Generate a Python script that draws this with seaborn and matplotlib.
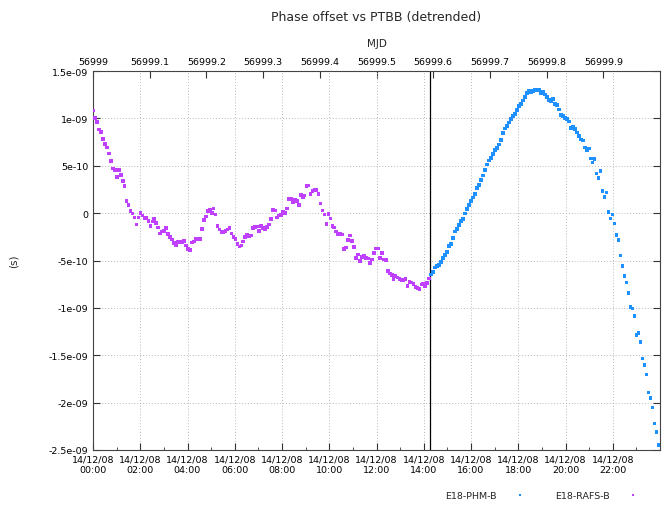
import matplotlib
matplotlib.use('Agg')
import matplotlib.pyplot as plt
import matplotlib.dates as mdates
from matplotlib.ticker import FixedLocator
from matplotlib.lines import Line2D
import seaborn as sns
import numpy as np
import pandas as pd

# detrended phase offset, units of 1e-10 s, one sample every ~5 min
rafs_vals = [
    10.83, 10.02, 9.63, 8.83, 8.58, 7.84, 7.28, 6.93, 6.29, 5.52,
    4.71, 4.57, 3.80, 4.54, 4.01, 3.38, 2.85, 1.30, 0.88, 0.25,
    -0.04, -0.46, -1.20, -0.46, 0.04, -0.25, -0.49, -0.53, -0.81, -1.34,
    -0.88, -0.60, -1.02, -1.51, -2.14, -1.93, -1.90, -1.58, -2.22, -2.50,
    -2.78, -3.16, -3.41, -3.06, -3.02, -3.09, -2.95, -3.41, -3.76, -3.87,
    -3.09, -2.99, -2.71, -2.67, -2.74, -1.65, -0.74, -0.35, 0.21, 0.39,
    0.04, 0.49, -0.14, -1.37, -1.72, -2.00, -1.97, -1.90, -1.72, -1.55,
    -2.14, -2.53, -2.71, -3.23, -3.52, -3.41, -2.99, -2.50, -2.29, -2.43,
    -2.36, -1.55, -1.44, -1.41, -1.90, -1.34, -1.55, -1.69, -1.44, -1.20,
    -0.63, 0.35, 0.28, -0.46, -0.25, -0.21, 0.14, 0.04, 0.49, 1.48,
    1.55, 1.20, 1.44, 1.27, 0.88, 1.90, 1.65, 1.86, 2.85, 2.92,
    2.04, 2.36, 2.43, 2.46, 2.04, 1.02, 0.28,
    -0.14, -1.13, -0.07, -0.56, -1.37, -1.51, -1.93, -2.22, -2.22, -2.25,
    -3.76, -3.62, -2.81, -2.36, -2.92, -3.59, -4.71, -4.36, -5.06, -4.61,
    -4.54, -4.75, -4.78, -5.24, -4.89, -4.18, -3.73, -3.73, -4.71, -4.22,
    -4.89, -4.96, -6.08, -6.36, -6.54, -6.96, -6.61, -6.79, -6.93, -7.07,
    -7.07, -6.96, -7.67, -7.28, -7.31, -7.45, -7.77, -7.91, -8.02, -7.53,
    -7.45, -7.67, -7.38, -6.90,
]
phm_vals = [
    -6.47, -6.19, -5.73, -5.56, -5.49, -5.17, -4.75, -4.43, -4.08, -3.48,
    -3.23, -2.60, -1.93, -1.65, -1.23, -0.81, -0.60, -0.04, 0.42, 0.88,
    1.27, 1.65, 2.04, 2.64, 2.95, 3.52, 3.97, 4.54, 5.13, 5.56,
    5.84, 6.26, 6.65, 6.90, 7.25, 7.74, 8.45, 8.94, 9.22,
    9.56, 9.95, 10.27, 10.44, 10.90, 11.29, 11.53, 11.88, 12.27, 12.66,
    12.94, 12.73, 12.90, 12.97, 12.97, 12.97, 12.69, 12.80, 12.52, 12.24,
    11.92, 11.81, 12.06, 11.50, 11.39, 10.94, 10.34, 10.27, 10.02, 9.92,
    9.67, 9.00, 9.11, 8.90, 8.51, 8.16, 7.77, 7.67, 6.93, 6.61,
    6.82, 5.77, 5.34, 5.70, 4.18, 3.69, 4.43,
    2.36, 1.72, 2.18, 0.14, -0.56, -0.14, -1.09, -2.32, -2.85, -4.47,
    -5.59, -6.65, -7.31, -8.44, -9.92, -10.06, -10.83, -12.83, -12.62, -13.61,
    -15.33, -16.03, -17.02, -18.92, -19.51, -20.53, -22.22, -23.07, -24.44,
]
rafs_span = ('2014-12-08 00:00', '2014-12-08 14:14')
phm_span = ('2014-12-08 14:19', '2014-12-08 23:56')
switch_time = '2014-12-08 14:16'

rafs = pd.DataFrame({'time': pd.date_range(*rafs_span, periods=len(rafs_vals)),
                     'offset': np.array(rafs_vals) * 1e-10, 'clock': 'E18-RAFS-B'})
phm = pd.DataFrame({'time': pd.date_range(*phm_span, periods=len(phm_vals)),
                    'offset': np.array(phm_vals) * 1e-10, 'clock': 'E18-PHM-B'})
data = pd.concat([rafs, phm], ignore_index=True)

colors = {'E18-PHM-B': '#1e90ff', 'E18-RAFS-B': '#c040ff'}

sns.set_style('white')
plt.rcParams['font.family'] = ['DejaVu Sans']

fig = plt.figure(figsize=(6.71, 5.06), dpi=100)
ax = fig.add_axes([93 / 671, 1 - 451 / 506, 567 / 671, 379 / 506])

sns.scatterplot(data=data, x='time', y='offset', hue='clock', palette=colors,
                s=7, marker='s', linewidth=0, legend=False, ax=ax, zorder=3)
ax.axvline(pd.Timestamp(switch_time), color='black', lw=0.9, zorder=2)

day0 = pd.Timestamp('2014-12-08')
ax.set_xlim(day0, day0 + pd.Timedelta(days=1))
ax.set_ylim(-2.5e-9, 1.5e-9)

yt = np.arange(-2.5e-9, 1.51e-9, 5e-10)
ylabels = ['-2.5e-09', '-2e-09', '-1.5e-09', '-1e-09', '-5e-10', '0',
           '5e-10', '1e-09', '1.5e-09']
ax.yaxis.set_major_locator(FixedLocator(yt))
ax.set_yticklabels(ylabels)

n0 = mdates.date2num(day0)
ax.xaxis.set_major_locator(FixedLocator([n0 + h / 24 for h in range(0, 24, 2)]))
ax.xaxis.set_minor_locator(FixedLocator([n0 + h / 24 for h in range(1, 24, 2)]))
ax.xaxis.set_major_formatter(mdates.DateFormatter('%y/%m/%d\n%H:%M'))

ax.tick_params(axis='both', which='both', direction='in', labelsize=6.8,
               colors='#333333', labelcolor='black')
ax.tick_params(axis='y', which='major', length=5, right=True, left=True)
ax.tick_params(axis='x', which='major', length=5, bottom=True, top=False)
ax.tick_params(axis='x', which='minor', length=2.5, bottom=True, top=False)

ax.grid(True, which='major', color='#b8b8b8', linestyle=(0, (1, 2)), lw=0.7)
for sp in ax.spines.values():
    sp.set_color('#444444')
    sp.set_linewidth(0.8)

ax.set_xlabel('')
ax.set_ylabel('(s)', fontsize=7.5)
ax.yaxis.set_label_coords(-0.132, 0.5)

top = ax.secondary_xaxis('top', functions=(lambda x: x - n0 + 56999,
                                           lambda m: m - 56999 + n0))
mjd_ticks = [56999 + i / 10 for i in range(10)]
top.xaxis.set_major_locator(FixedLocator(mjd_ticks))
top.set_xticklabels(['56999'] + ['56999.%d' % i for i in range(1, 10)])
top.tick_params(direction='in', length=5, labelsize=6.8, colors='#333333',
                labelcolor='black')
top.set_xlabel('MJD', fontsize=7.5, labelpad=8)
top.spines['top'].set_visible(False)

fig.text(376 / 671, 1 - 17 / 506, 'Phase offset vs PTBB (detrended)',
         ha='center', va='center', fontsize=9)

handles = [Line2D([], [], ls='none', marker='s', ms=2, mew=0, color=colors[k])
           for k in ['E18-PHM-B', 'E18-RAFS-B']]
fig.legend(handles, ['E18-PHM-B', 'E18-RAFS-B'], loc='center',
           bbox_to_anchor=(545 / 671, 1 - 497 / 506), ncol=2, frameon=False,
           markerfirst=False, fontsize=6.8, handlelength=2.5, columnspacing=2.5,
           handletextpad=1.2)

fig.savefig('out.png', dpi=100)
